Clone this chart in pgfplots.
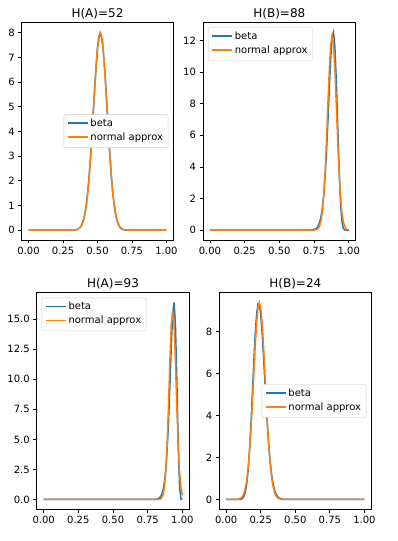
\documentclass[border=0pt]{standalone}
\usepackage{fontspec}
\setmainfont{DejaVu Sans}
\usepackage{pgfplots}
\pgfplotsset{compat=1.18}
\definecolor{tabblue}{HTML}{1F77B4}
\definecolor{taborange}{HTML}{FF7F0E}
\pgfplotsset{
  every axis title shift=0pt,
  mpl/.style={
    scale only axis,
    xmin=-0.05, xmax=1.05,
    axis line style={line width=0.8pt},
    tick align=outside,
    major tick length=3.5pt,
    every tick/.style={black, line width=0.8pt},
    tick pos=left,
    xtick={0,0.25,0.5,0.75,1},
    xticklabels={0.00,0.25,0.50,0.75,1.00},
    tick label style={font=\fontsize{10}{12}\selectfont},
    title style={font=\fontsize{12}{14}\selectfont, anchor=base, yshift=5pt, inner sep=0pt},
    legend cell align=left,
    legend image code/.code={\draw[##1, line width=1.6pt] (0pt,3.5pt) -- (20pt,3.5pt);},
    legend style={draw=black!20, fill=white,
      rounded corners=2pt, font=\fontsize{10}{12}\selectfont,
      inner xsep=3pt, inner ysep=2.5pt, row sep=0pt,
      nodes={inner ysep=2pt, anchor=base west, text depth=0.25em, text height=0.75em}},
  },
  bl/.style={tabblue, line width=1.5pt},
  or/.style={taborange, line width=1.5pt},
}
\begin{document}
\begin{tikzpicture}[x=1pt,y=1pt]
\useasboundingbox (0,0) rectangle (398,541);
% ---------------- H(A)=52
\begin{axis}[mpl, at={(21.7pt,301pt)}, anchor=south west, width=151.6pt, height=217.7pt,
  ymin=-0.401, ymax=8.426, ytick={0,1,2,3,4,5,6,7,8}, yticklabels={0,1,2,3,4,5,6,7,8},
  title={H(A)=52},
  legend style={at={(0.967,0.5)}, anchor=east}]
\addplot[bl] coordinates {(0,0) (0.30,0.0002) (0.31,0.0007) (0.32,0.0018) (0.33,0.0043) (0.34,0.0098) (0.35,0.0210) (0.36,0.0425) (0.37,0.0820) (0.38,0.1507) (0.39,0.2640) (0.40,0.4414) (0.41,0.7058) (0.42,1.0802) (0.43,1.5839) (0.44,2.2264) (0.45,3.0031) (0.46,3.8891) (0.47,4.8379) (0.48,5.7833) (0.49,6.6447) (0.50,7.3411) (0.51,7.7978) (0.52,7.9655) (0.53,7.8227) (0.54,7.3856) (0.55,6.7014) (0.56,5.8420) (0.57,4.8903) (0.58,3.9286) (0.59,3.0268) (0.60,2.2346) (0.61,1.5797) (0.62,1.0678) (0.63,0.6895) (0.64,0.4247) (0.65,0.2492) (0.66,0.1390) (0.67,0.0735) (0.68,0.0369) (0.69,0.0174) (0.70,0.0078) (0.71,0.0033) (0.72,0.0013) (0.73,0.0005) (1,0)};
\addlegendentry{beta}
\addplot[or] coordinates {(0,0) (0.31,0.0005) (0.32,0.0025) (0.33,0.0054) (0.34,0.0114) (0.35,0.0232) (0.36,0.0452) (0.37,0.0846) (0.38,0.152) (0.39,0.263) (0.40,0.436) (0.41,0.694) (0.42,1.061) (0.43,1.559) (0.44,2.198) (0.45,2.978) (0.46,3.874) (0.47,4.839) (0.48,5.806) (0.49,6.689) (0.50,7.401) (0.51,7.864) (0.52,8.025) (0.53,7.864) (0.54,7.401) (0.55,6.689) (0.56,5.806) (0.57,4.839) (0.58,3.874) (0.59,2.978) (0.60,2.198) (0.61,1.559) (0.62,1.061) (0.63,0.694) (0.64,0.436) (0.65,0.263) (0.66,0.152) (0.67,0.0846) (0.68,0.0452) (0.69,0.0232) (0.70,0.0114) (0.71,0.0054) (0.72,0.0025) (0.73,0.0005) (1,0)};
\addlegendentry{normal approx}
\end{axis}
% ---------------- H(B)=88
\begin{axis}[mpl, at={(203pt,301pt)}, anchor=south west, width=152.7pt, height=217.7pt,
  ymin=-0.627, ymax=13.16, ytick={0,2,4,6,8,10,12}, yticklabels={0,2,4,6,8,10,12},
  title={H(B)=88},
  legend style={at={(0.033,0.977)}, anchor=north west}]
\addplot[bl] coordinates {(0,0) (0.70,0.0007) (0.71,0.0016) (0.72,0.0036) (0.73,0.0079) (0.74,0.0171) (0.75,0.0357) (0.76,0.0722) (0.77,0.1409) (0.78,0.2655) (0.79,0.4820) (0.80,0.8417) (0.81,1.4105) (0.82,2.2642) (0.83,3.4653) (0.84,5.0429) (0.85,6.9421) (0.86,8.9910) (0.87,10.8789) (0.88,12.1908) (0.89,12.5104) (0.90,11.5906) (0.91,9.5126) (0.92,6.7385) (0.93,3.9729) (0.94,1.8484) (0.95,0.6247) (0.96,0.1334) (0.97,0.0139) (0.98,0.0004) (0.99,0.0000) (1,0)};
\addlegendentry{beta}
\addplot[or] coordinates {(0,0) (0.73,0.0002) (0.74,0.0010) (0.75,0.0038) (0.76,0.0126) (0.77,0.0379) (0.78,0.1034) (0.79,0.2564) (0.80,0.578) (0.81,1.184) (0.82,2.206) (0.83,3.733) (0.84,5.741) (0.85,8.023) (0.86,10.190) (0.87,11.762) (0.88,12.338) (0.89,11.762) (0.90,10.190) (0.91,8.023) (0.92,5.741) (0.93,3.733) (0.94,2.206) (0.95,1.184) (0.96,0.578) (0.97,0.2564) (0.98,0.1034) (0.99,0.0379) (1,0.0126)};
\addlegendentry{normal approx}
\end{axis}
% ---------------- H(A)=93
\begin{axis}[mpl, at={(36.7pt,31.7pt)}, anchor=south west, width=152.6pt, height=216.6pt,
  ymin=-0.820, ymax=17.21, ytick={0,2.5,5,7.5,10,12.5,15}, yticklabels={0.0,2.5,5.0,7.5,10.0,12.5,15.0},
  title={H(A)=93},
  legend style={at={(0.033,0.977)}, anchor=north west}]
\addplot[bl] coordinates {(0,0) (0.76,0.0002) (0.77,0.0006) (0.78,0.0014) (0.79,0.0034) (0.80,0.0081) (0.81,0.0187) (0.82,0.0417) (0.83,0.0903) (0.84,0.1889) (0.85,0.3811) (0.86,0.7389) (0.87,1.3721) (0.88,2.4287) (0.89,4.0755) (0.90,6.4299) (0.91,9.4440) (0.92,12.7330) (0.93,15.4494) (0.94,16.3903) (0.95,14.5314) (0.96,9.9821) (0.97,4.6094) (0.98,1.0396) (0.99,0.0413) (1,0)};
\addlegendentry{beta}
\addplot[or] coordinates {(0,0) (0.81,0.0002) (0.82,0.0013) (0.83,0.0067) (0.84,0.0293) (0.85,0.1097) (0.86,0.3512) (0.87,0.9627) (0.88,2.260) (0.89,4.542) (0.90,7.818) (0.91,11.523) (0.92,14.541) (0.93,15.714) (0.94,14.541) (0.95,11.523) (0.96,7.818) (0.97,4.542) (0.98,2.260) (0.99,0.9627) (1,0.3512)};
\addlegendentry{normal approx}
\end{axis}
% ---------------- H(B)=24
\begin{axis}[mpl, at={(219.3pt,31.7pt)}, anchor=south west, width=152pt, height=216.6pt,
  ymin=-0.469, ymax=9.857, ytick={0,2,4,6,8}, yticklabels={0,2,4,6,8},
  title={H(B)=24},
  legend style={at={(0.967,0.5)}, anchor=east}]
\addplot[bl] coordinates {(0,0) (0.07,0.0001) (0.08,0.0002) (0.09,0.0011) (0.10,0.0054) (0.11,0.0209) (0.12,0.0661) (0.13,0.1768) (0.14,0.4086) (0.15,0.8306) (0.16,1.5088) (0.17,2.4778) (0.18,3.7171) (0.19,5.1360) (0.20,6.5816) (0.21,7.8701) (0.22,8.8251) (0.23,9.3203) (0.24,9.3062) (0.25,8.8128) (0.26,7.9372) (0.27,6.8152) (0.28,5.5906) (0.29,4.3899) (0.30,3.3039) (0.31,2.3873) (0.32,1.6578) (0.33,1.1075) (0.34,0.7124) (0.35,0.4416) (0.36,0.2639) (0.37,0.1521) (0.38,0.0846) (0.39,0.0454) (0.40,0.0235) (0.41,0.0118) (0.42,0.0057) (0.43,0.0026) (0.44,0.0012) (0.45,0.0005) (1,0)};
\addlegendentry{beta}
\addplot[or] coordinates {(0,0) (0.05,0.0004) (0.06,0.0012) (0.07,0.0031) (0.08,0.0078) (0.09,0.0185) (0.10,0.0413) (0.11,0.0872) (0.12,0.1742) (0.13,0.3293) (0.14,0.5890) (0.15,0.9967) (0.16,1.5958) (0.17,2.4174) (0.18,3.4648) (0.19,4.6985) (0.20,6.0281) (0.21,7.3173) (0.22,8.4036) (0.23,9.1314) (0.24,9.3878) (0.25,9.1314) (0.26,8.4036) (0.27,7.3173) (0.28,6.0281) (0.29,4.6985) (0.30,3.4648) (0.31,2.4174) (0.32,1.5958) (0.33,0.9967) (0.34,0.5890) (0.35,0.3293) (0.36,0.1742) (0.37,0.0872) (0.38,0.0413) (0.39,0.0185) (0.40,0.0078) (0.41,0.0031) (0.42,0.0012) (0.43,0.0004) (1,0)};
\addlegendentry{normal approx}
\end{axis}
\end{tikzpicture}
\end{document}
